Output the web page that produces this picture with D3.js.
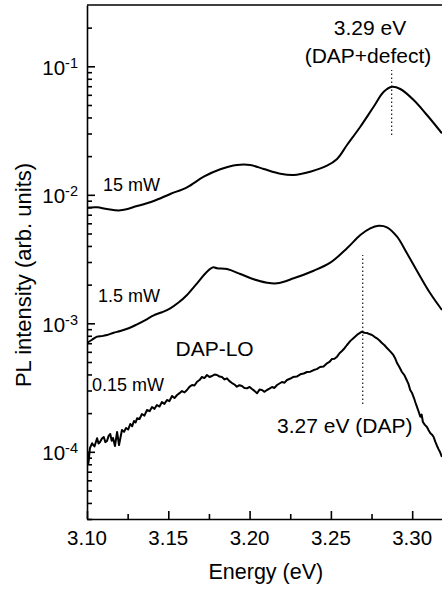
<!DOCTYPE html>
<html><head><meta charset="utf-8">
<script src="https://cdn.jsdelivr.net/npm/d3@7/dist/d3.min.js"></script>
<style>
body{margin:0;background:#fff}
svg{display:block}
text{font-family:"Liberation Sans",Arial,Helvetica,sans-serif;fill:#000}
</style>
</head><body>
<svg id="chart" width="442" height="591"></svg>
<script>
// ---- data: [energy eV, PL intensity] ----
const series15mW = [[3.100,7.94e-3],[3.1062,7.99e-3],[3.1123,7.75e-3],[3.1205,7.57e-3],[3.1308,8.18e-3],[3.1410,8.95e-3],[3.1512,1.015e-2],[3.1615,1.144e-2],[3.1718,1.383e-2],[3.1820,1.579e-2],[3.1922,1.706e-2],[3.2004,1.706e-2],[3.2087,1.588e-2],[3.2189,1.460e-2],[3.2271,1.426e-2],[3.2373,1.513e-2],[3.2476,1.685e-2],[3.2538,1.900e-2],[3.2599,2.441e-2],[3.2681,3.388e-2],[3.2763,4.85e-2],[3.2825,6.34e-2],[3.2876,6.94e-2],[3.2927,6.66e-2],[3.3009,5.47e-2],[3.3091,4.18e-2],[3.3183,3.01e-2]];

const series1p5mW = [[3.100,7.03e-4],[3.1031,7.45e-4],[3.1062,7.87e-4],[3.1092,7.95e-4],[3.1123,8.11e-4],[3.1164,8.45e-4],[3.1205,8.71e-4],[3.1256,9.15e-4],[3.1308,9.82e-4],[3.1359,1.06e-3],[3.1410,1.154e-3],[3.1461,1.22e-3],[3.1512,1.308e-3],[3.1563,1.45e-3],[3.1615,1.661e-3],[3.1677,2.048e-3],[3.1738,2.521e-3],[3.1777,2.728e-3],[3.1800,2.679e-3],[3.1861,2.646e-3],[3.1943,2.419e-3],[3.2025,2.201e-3],[3.2107,2.070e-3],[3.2169,2.048e-3],[3.2271,2.240e-3],[3.2394,2.566e-3],[3.2496,2.962e-3],[3.2599,3.835e-3],[3.2681,4.866e-3],[3.2742,5.489e-3],[3.2794,5.75e-3],[3.2845,5.59e-3],[3.2907,4.72e-3],[3.2968,3.505e-3],[3.3050,2.305e-3],[3.3111,1.712e-3],[3.3183,1.269e-3]];

const series0p15mW = [[3.1000,1.033e-4],[3.1009,8.18e-5],[3.1018,1.070e-4],[3.1031,1.165e-4],[3.1046,1.10e-4],[3.1062,1.274e-4],[3.1071,1.16e-4],[3.1080,1.192e-4],[3.1092,1.27e-4],[3.1103,1.304e-4],[3.1113,1.19e-4],[3.1123,1.214e-4],[3.1133,1.33e-4],[3.1143,1.376e-4],[3.1152,1.22e-4],[3.1160,1.281e-4],[3.1172,1.110e-4],[3.1185,1.426e-4],[3.1197,1.130e-4],[3.1215,1.478e-4],[3.1228,1.43e-4],[3.1240,1.532e-4],[3.1253,1.49e-4],[3.1266,1.646e-4],[3.1278,1.58e-4],[3.1289,1.737e-4],[3.1299,1.69e-4],[3.1308,1.823e-4],[3.1323,1.80e-4],[3.1338,1.968e-4],[3.1353,1.91e-4],[3.1369,2.115e-4],[3.1385,2.07e-4],[3.1400,2.232e-4],[3.1415,2.16e-4],[3.1430,2.314e-4],[3.1446,2.25e-4],[3.1461,2.441e-4],[3.1476,2.36e-4],[3.1492,2.530e-4],[3.1507,2.48e-4],[3.1523,2.719e-4],[3.1538,2.62e-4],[3.1554,2.768e-4],[3.1569,2.86e-4],[3.1584,2.972e-4],[3.1600,2.90e-4],[3.1615,3.027e-4],[3.1630,3.20e-4],[3.1646,3.311e-4],[3.1661,3.28e-4],[3.1677,3.512e-4],[3.1692,3.62e-4],[3.1707,3.821e-4],[3.1722,3.75e-4],[3.1738,3.960e-4],[3.1753,3.82e-4],[3.1769,3.890e-4],[3.1784,3.99e-4],[3.1800,3.960e-4],[3.1815,3.85e-4],[3.1830,3.821e-4],[3.1846,3.66e-4],[3.1861,3.733e-4],[3.1876,3.55e-4],[3.1892,3.43e-4],[3.1907,3.34e-4],[3.1922,3.21e-4],[3.1938,3.30e-4],[3.1953,3.25e-4],[3.1968,3.14e-4],[3.1984,3.12e-4],[3.2000,3.20e-4],[3.2015,3.08e-4],[3.2030,2.98e-4],[3.2046,2.853e-4],[3.2061,3.05e-4],[3.2076,3.027e-4],[3.2092,2.93e-4],[3.2107,3.027e-4],[3.2122,3.10e-4],[3.2138,3.194e-4],[3.2153,3.14e-4],[3.2169,3.311e-4],[3.2184,3.40e-4],[3.2199,3.493e-4],[3.2215,3.45e-4],[3.2230,3.62e-4],[3.2248,3.70e-4],[3.2267,3.82e-4],[3.2290,3.85e-4],[3.2312,4.01e-4],[3.2333,4.07e-4],[3.2353,4.18e-4],[3.2374,4.20e-4],[3.2394,4.33e-4],[3.2413,4.40e-4],[3.2433,4.57e-4],[3.2455,4.62e-4],[3.2476,4.885e-4],[3.2491,5.00e-4],[3.2507,5.28e-4],[3.2522,5.30e-4],[3.2538,5.50e-4],[3.2553,5.85e-4],[3.2568,6.09e-4],[3.2584,6.40e-4],[3.2599,6.78e-4],[3.2620,7.30e-4],[3.2640,7.69e-4],[3.2667,8.25e-4],[3.2691,8.60e-4],[3.2706,8.45e-4],[3.2722,8.41e-4],[3.2737,8.25e-4],[3.2753,8.11e-4],[3.2768,7.85e-4],[3.2783,7.64e-4],[3.2799,7.35e-4],[3.2814,7.03e-4],[3.2830,6.75e-4],[3.2845,6.42e-4],[3.2865,6.05e-4],[3.2884,5.67e-4],[3.2895,5.35e-4],[3.2907,4.91e-4],[3.2922,4.55e-4],[3.2937,4.18e-4],[3.2952,3.95e-4],[3.2966,3.62e-4],[3.2977,3.38e-4],[3.2988,3.03e-4],[3.3000,2.85e-4],[3.3011,2.62e-4],[3.3020,2.42e-4],[3.3030,2.23e-4],[3.3040,2.05e-4],[3.3050,1.876e-4],[3.3058,1.95e-4],[3.3066,1.706e-4],[3.3078,1.62e-4],[3.3091,1.56e-4],[3.3101,1.47e-4],[3.3111,1.401e-4],[3.3122,1.36e-4],[3.3132,1.304e-4],[3.3142,1.20e-4],[3.3153,1.11e-4],[3.3162,1.05e-4],[3.3171,9.97e-5],[3.3183,9.11e-5]];

const energyTicks = [3.10,3.15,3.20,3.25,3.30];
const energyTickLabels = ["3.10","3.15","3.20","3.25","3.30"];
const energyMinorTicks = [3.125,3.175,3.225,3.275];
const decadeTicks = [1e-4,1e-3,1e-2,1e-1];
const decadeExponents = ["-4","-3","-2","-1"];

// ---- layout ----
const L = 87, R = 444.7, T = 5, B = 519;
const svg = d3.select("#chart");
const x = d3.scaleLinear().domain([3.10,3.32]).range([L,R]);
const y = d3.scaleLog().domain([3e-5,3e-1]).range([B,T]);

const minorY = [];
[1e-5,1e-4,1e-3,1e-2,1e-1].forEach(d => { for (let k=2;k<=9;k++){ const v=k*d; if (v>=3e-5 && v<=3e-1) minorY.push(v);} });

svg.append("defs").append("clipPath").attr("id","plot")
  .append("rect").attr("x",L).attr("y",T).attr("width",R-L).attr("height",B-T);

// curves
const g = svg.append("g").attr("clip-path","url(#plot)");
[[series15mW,d3.curveCatmullRom],[series1p5mW,d3.curveCatmullRom],[series0p15mW,d3.curveLinear]].forEach(([s,c])=>{
  g.append("path").attr("d",d3.line().x(d=>x(d[0])).y(d=>y(d[1])).curve(c)(s))
    .attr("fill","none").attr("stroke","#000").attr("stroke-width",2).attr("stroke-linejoin","round");
});

// dotted markers
const markers = [{e:3.2874, v0:2.92e-2, v1:9.36e-2},{e:3.2696, v0:2.36e-4, v1:3.40e-3}];
markers.forEach(m=>{
  svg.append("line").attr("x1",x(m.e)).attr("x2",x(m.e)).attr("y1",y(m.v0)).attr("y2",y(m.v1))
    .attr("stroke","#000").attr("stroke-width",1.1).attr("stroke-dasharray","1.5,2.5");
});

// axes
const axStyle = sel => { sel.selectAll("path,line").attr("stroke","#000").attr("stroke-width",1.6); sel.selectAll("text").remove(); };
svg.append("g").attr("transform",`translate(0,${B})`)
  .call(d3.axisBottom(x).tickValues(energyTicks).tickSizeInner(-8).tickSizeOuter(0).tickFormat(""))
  .call(axStyle);
svg.append("g").attr("transform",`translate(0,${B})`)
  .call(d3.axisBottom(x).tickValues(energyMinorTicks).tickSizeInner(-5).tickSizeOuter(0).tickFormat(""))
  .call(axStyle).select(".domain").remove();
svg.append("g").attr("transform",`translate(${L},0)`)
  .call(d3.axisLeft(y).tickValues(decadeTicks).tickSizeInner(-8).tickSizeOuter(0).tickFormat(""))
  .call(axStyle);
svg.append("g").attr("transform",`translate(${L},0)`)
  .call(d3.axisLeft(y).tickValues(minorY).tickSizeInner(-5).tickSizeOuter(0).tickFormat(""))
  .call(axStyle).select(".domain").remove();
svg.append("line").attr("x1",L).attr("x2",R).attr("y1",T).attr("y2",T).attr("stroke","#000").attr("stroke-width",1.6);
svg.append("line").attr("x1",R).attr("x2",R).attr("y1",T).attr("y2",B).attr("stroke","#000").attr("stroke-width",1.6);

// tick labels
energyTicks.forEach((e,i)=>{
  svg.append("text").attr("x",x(e)).attr("y",545).attr("text-anchor","middle").attr("font-size",20.5).text(energyTickLabels[i]);
});
decadeTicks.forEach((v,i)=>{
  const t = svg.append("text").attr("x",78).attr("y",y(v)+8.5).attr("text-anchor","end").attr("font-size",20.5);
  t.append("tspan").text("10");
  t.append("tspan").attr("dy",-7).attr("font-size",14.5).text(decadeExponents[i]);
});

// axis titles
svg.append("text").attr("x",(L+R)/2).attr("y",579).attr("text-anchor","middle").attr("font-size",21.5).text("Energy (eV)");
svg.append("text").attr("transform",`translate(30.5,275) rotate(-90)`).attr("text-anchor","middle").attr("font-size",22).text("PL intensity (arb. units)");

// annotations
const notes = [
  {t:"3.29 eV", x:370, y:35, s:21, a:"middle"},
  {t:"(DAP+defect)", x:368, y:63, s:21, a:"middle"},
  {t:"15 mW", x:103, y:191, s:18, a:"start"},
  {t:"1.5 mW", x:98, y:301.5, s:18, a:"start"},
  {t:"DAP-LO", x:175.5, y:355.5, s:21, a:"start"},
  {t:"0.15 mW", x:92, y:390.5, s:18, a:"start"},
  {t:"3.27 eV (DAP)", x:277, y:432.5, s:21, a:"start"}
];
notes.forEach(n=>svg.append("text").attr("x",n.x).attr("y",n.y).attr("font-size",n.s).attr("text-anchor",n.a).text(n.t));
</script>
</body></html>
